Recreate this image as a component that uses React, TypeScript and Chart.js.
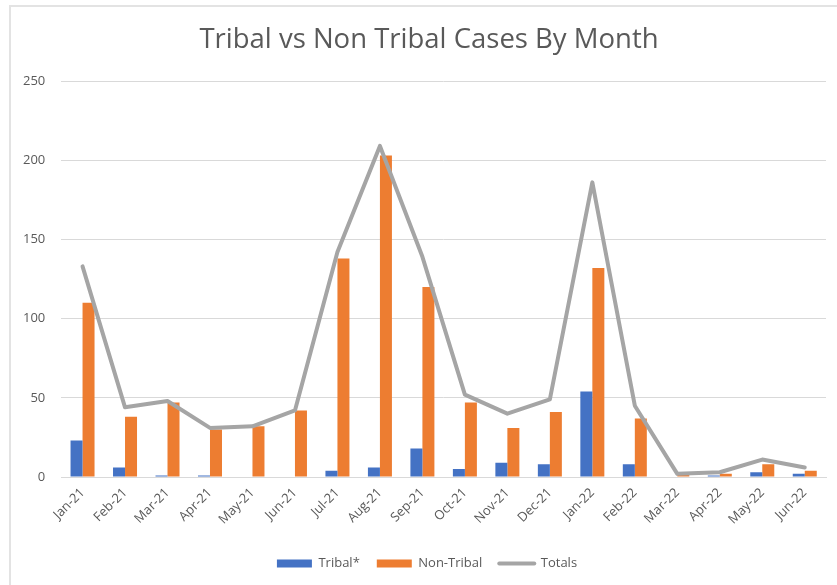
import React, { useEffect, useRef } from "react";
import { Chart, registerables } from "chart.js";

Chart.register(...registerables);

const months = [
  "Jan-21", "Feb-21", "Mar-21", "Apr-21", "May-21", "Jun-21", "Jul-21", "Aug-21", "Sep-21",
  "Oct-21", "Nov-21", "Dec-21", "Jan-22", "Feb-22", "Mar-22", "Apr-22", "May-22", "Jun-22",
];
const tribal = [23, 6, 1, 1, 0, 0, 4, 6, 18, 5, 9, 8, 54, 8, 0, 1, 3, 2];
const nonTribal = [110, 38, 47, 30, 32, 42, 138, 203, 120, 47, 31, 41, 132, 37, 2, 2, 8, 4];
const totals = [133, 44, 48, 31, 32, 42, 142, 209, 139, 52, 40, 49, 186, 45, 2, 3, 11, 6];

const FONT = "'Open Sans', 'Noto Sans', sans-serif";
const TEXT = "#595959";
const GRID = "#d9d9d9";

const blockShift = {
  id: "blockShift",
  afterLayout(chart: any) {
    const t = chart.titleBlock;
    if (t) {
      t.left += 12.5;
      t.right += 12.5;
    }
    const l = chart.legend;
    if (l) {
      l.left += 10.5;
      l.right += 10.5;
    }
  },
};

export default function App() {
  const ref = useRef<HTMLCanvasElement | null>(null);
  useEffect(() => {
    if (!ref.current) return;
    const chart = new Chart(ref.current, {
      type: "bar",
      plugins: [blockShift],
      data: {
        labels: months,
        datasets: [
          {
            label: "Tribal*",
            data: tribal,
            backgroundColor: "#4472C4",
            order: 1,
            categoryPercentage: 0.565,
            barPercentage: 1,
          } as any,
          {
            label: "Non-Tribal",
            data: nonTribal,
            backgroundColor: "#ED7D31",
            order: 1,
            categoryPercentage: 0.565,
            barPercentage: 1,
          } as any,
          {
            type: "line",
            label: "Totals",
            data: totals,
            borderColor: "#A5A5A5",
            backgroundColor: "#A5A5A5",
            borderWidth: 4,
            pointRadius: 0,
            pointHoverRadius: 0,
            tension: 0,
            borderJoinStyle: "round",
            borderCapStyle: "round",
            order: 0,
          } as any,
        ],
      },
      options: {
        animation: false,
        responsive: false,
        maintainAspectRatio: false,
        layout: { padding: { left: 7, right: 11, top: 0, bottom: 5 } },
        plugins: {
          title: {
            display: true,
            text: "Tribal vs Non Tribal Cases By Month",
            color: TEXT,
            font: { family: FONT, size: 27.5, weight: "normal" },
            padding: { top: 24, bottom: 24 },
          },
          tooltip: { enabled: false },
          legend: {
            position: "bottom",
            labels: {
              color: TEXT,
              font: { family: FONT, size: 13 },
              usePointStyle: true,
              pointStyleWidth: 35,
              boxHeight: 8,
              padding: 17,
              sort: (a: any, b: any) => a.datasetIndex - b.datasetIndex,
              generateLabels: (c: any) => {
                const items = Chart.defaults.plugins.legend.labels.generateLabels(c);
                return items.map((it: any) => {
                  if (it.datasetIndex === 2) {
                    return { ...it, pointStyle: "line", lineWidth: 4, strokeStyle: "#A5A5A5", lineCap: "round" };
                  }
                  return { ...it, pointStyle: "rect", lineWidth: 0 };
                });
              },
            },
          },
        },
        scales: {
          x: {
            grid: { display: false, drawTicks: false },
            border: { display: true, color: GRID },
            ticks: {
              color: TEXT,
              font: { family: FONT, size: 13 },
              maxRotation: 45,
              minRotation: 45,
              autoSkip: false,
              padding: 8,
            },
            afterFit: (s: any) => {
              s.height = 63;
            },
          },
          y: {
            min: 0,
            max: 250,
            grid: { color: GRID, lineWidth: 1, drawTicks: false },
            border: { display: false },
            ticks: {
              stepSize: 50,
              color: TEXT,
              font: { family: FONT, size: 13 },
              padding: 16,
            },
          },
        },
      },
    });
    return () => chart.destroy();
  }, []);

  return (
    <div style={{ position: "fixed", left: 0, top: 0, width: 837, height: 585, background: "#fff", overflow: "hidden" }}>
      <div
        style={{
          position: "absolute",
          left: 9,
          top: 5,
          width: 900,
          height: 700,
          borderLeft: "2px solid #e3e3e3",
          borderTop: "2px solid #e3e3e3",
        }}
      />
      <canvas ref={ref} width={837} height={585} style={{ position: "absolute", left: 0, top: 0 }} />
    </div>
  );
}
